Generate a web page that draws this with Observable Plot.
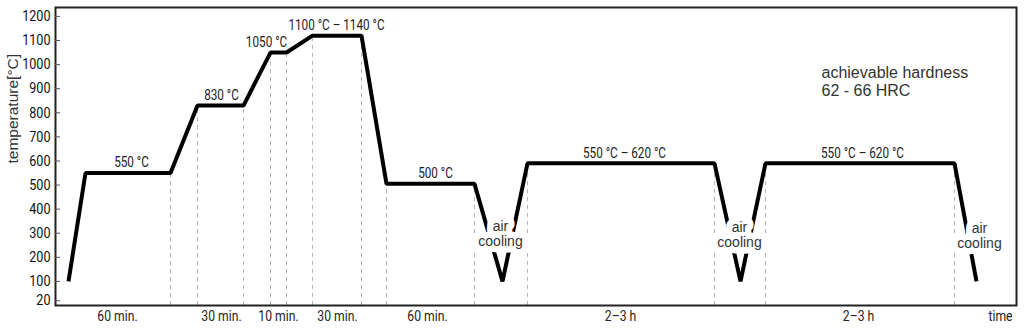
<!DOCTYPE html>
<html><head><meta charset="utf-8">
<script src="https://cdn.jsdelivr.net/npm/d3@7"></script>
<script src="https://cdn.jsdelivr.net/npm/@observablehq/plot@0.6"></script>
<style>body{margin:0;background:#fff}</style>
</head><body><div id="chart"></div>
<script>
// schematic time units along the process, and furnace temperature (°C)
const time = [13, 30, 115, 142, 188, 215, 231, 257, 306, 331, 419, 447, 472, 659, 685, 710, 899, 921];
const temperature = [100, 550, 550, 830, 830, 1050, 1050, 1120, 1120, 505, 505, 100, 590, 590, 100, 590, 590, 100];
const guideIndex = [2, 3, 4, 5, 6, 7, 8, 9, 10, 12, 13, 15, 16];
const yTicks = [20, 100, 200, 300, 400, 500, 600, 700, 800, 900, 1000, 1100, 1200];

const stageLabels = ["550 °C", "830 °C", "1050 °C", "1100 °C – 1140 °C", "500 °C", "550 °C – 620 °C", "550 °C – 620 °C"];
const stageLabelTime = [76, 166, 211, 281, 380, 569, 807];
const stageLabelTemp = [550, 830, 1050, 1120, 505, 590, 590];

const durationLabels = ["60 min.", "30 min.", "10 min.", "30 min.", "60 min.", "2–3 h", "2–3 h", "time"];
const durationTime = [62, 166, 223, 282, 372, 565, 803, 945];

const coolingLabel = "air\ncooling";
const coolingTime = [445, 684, 924];
const coolingTemp = [297, 293, 289];

const noteText = "achievable hardness\n62 - 66 HRC";
const noteTime = 766;
const noteTemp = 930;

const profile = time.map((t, i) => ({t, temp: temperature[i]}));
const guides = guideIndex.map(i => profile[i]);
const stages = stageLabels.map((s, i) => ({s, t: stageLabelTime[i], temp: stageLabelTemp[i]}));
const durations = durationLabels.map((s, i) => ({s, t: durationTime[i]}));
const coolings = coolingTime.map((t, i) => ({t, temp: coolingTemp[i]}));

const narrow = "Roboto";
const regular = "'Liberation Sans', Arial, sans-serif";

const chart = Plot.plot({
  width: 1024,
  height: 328,
  marginLeft: 55,
  marginRight: 8,
  marginTop: 7,
  marginBottom: 23,
  style: {background: "#fff"},
  x: {domain: [0, 961], axis: null},
  y: {domain: [0, 1237]},
  marks: [
    Plot.ruleX(guides, {x: "t", y1: 0, y2: "temp", stroke: "#b5b5b5", strokeWidth: 1, strokeDasharray: "4,4"}),
    Plot.line(profile, {x: "t", y: "temp", stroke: "#000", strokeWidth: 4, strokeLinejoin: "miter", strokeLinecap: "butt"}),
    Plot.text(coolings, {x: "t", y: "temp", text: () => coolingLabel, fontFamily: regular, fontSize: 14, lineHeight: 1.08, fill: "#fff", stroke: "#fff", strokeWidth: 13, strokeLinejoin: "round"}),
    Plot.text(coolings, {x: "t", y: "temp", text: () => coolingLabel, fontFamily: regular, fontSize: 14, lineHeight: 1.08, fill: "#333"}),
    Plot.text(stages, {x: "t", y: "temp", text: "s", dy: -10, fontFamily: narrow, fontSize: 14, fill: "#222"}),
    Plot.text(durations, {x: "t", text: "s", frameAnchor: "bottom", dy: 15, fontFamily: narrow, fontSize: 14.5, fill: "#222"}),
    Plot.text([noteText], {x: noteTime, y: noteTemp, text: d => d, textAnchor: "start", fontFamily: regular, fontSize: 16, lineHeight: 1.125, fill: "#333"}),
    Plot.text(["temperature[°C]"], {frameAnchor: "left", text: d => d, rotate: -90, dx: -42, dy: 7, fontFamily: regular, fontSize: 15.5, fill: "#333"}),
    Plot.frame({stroke: "#222", strokeWidth: 2}),
    Plot.axisY(yTicks, {tickSize: -5, tickPadding: 10, tickFormat: d => String(d), fontFamily: narrow, fontSize: 15, fill: "#111", stroke: "#555", label: null})
  ]
});
// condensed look: narrow the Roboto labels horizontally around their anchor points
d3.select(chart).selectAll("g[font-family='Roboto'] text").each(function() {
  const t = this.getAttribute("transform") || "";
  this.setAttribute("transform", (t + " scale(0.84,1)").trim());
});
document.getElementById("chart").append(chart);
</script>
</body></html>
